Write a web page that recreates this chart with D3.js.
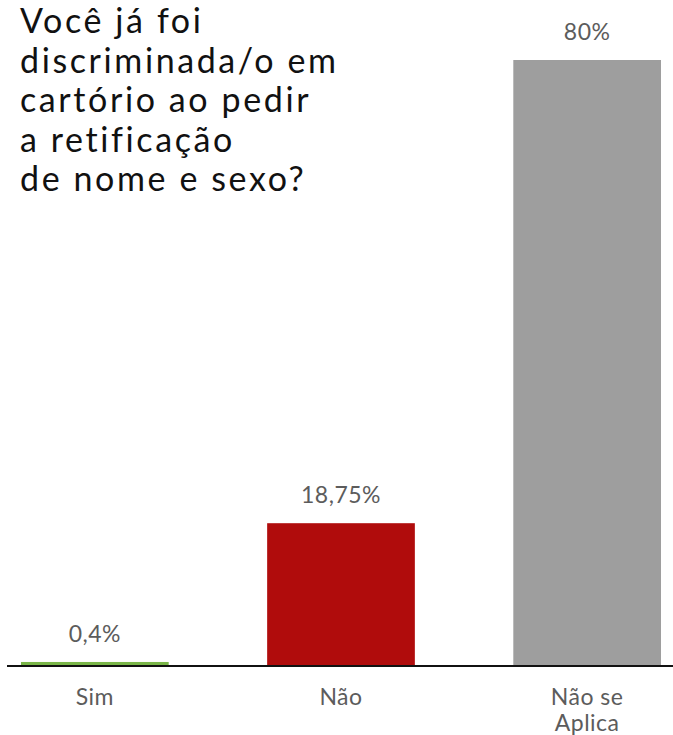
<!DOCTYPE html>
<html>
<head>
<meta charset="utf-8">
<script src="https://cdn.jsdelivr.net/npm/d3@7"></script>
<style>
  html, body { margin: 0; padding: 0; background: #ffffff; }
  svg { display: block; }
  text { font-family: "Lato", "Noto Sans", sans-serif; }
</style>
</head>
<body>
<script>
// Survey answers and their shares (%)
const categories = ["Sim", "Não", "Não se Aplica"];
const values = [0.4, 18.75, 80];
const valueLabels = ["0,4%", "18,75%", "80%"];
const categoryLines = [["Sim"], ["Não"], ["Não se", "Aplica"]];
const barColors = ["#7ab648", "#b00c0c", "#9e9e9e"];
const titleLines = [
  "Você já foi",
  "discriminada/o em",
  "cartório ao pedir",
  "a retificação",
  "de nome e sexo?"
];

const W = 673, H = 735;
const baseY = 665;

const svg = d3.select("body").append("svg")
  .attr("width", W).attr("height", H);

const x = d3.scaleBand()
  .domain(categories)
  .range([21, 661])
  .paddingInner(0.4)
  .paddingOuter(0);

const y = d3.scaleLinear()
  .domain([0, 80])
  .range([baseY, 60]);

// Bars
svg.selectAll("rect.bar")
  .data(categories)
  .join("rect")
  .attr("class", "bar")
  .attr("x", d => x(d))
  .attr("width", x.bandwidth())
  .attr("y", (d, i) => y(values[i]))
  .attr("height", (d, i) => baseY - y(values[i]))
  .attr("fill", (d, i) => barColors[i]);

// Value labels above bars
svg.selectAll("text.val")
  .data(categories)
  .join("text")
  .attr("class", "val")
  .attr("x", d => x(d) + x.bandwidth() / 2)
  .attr("y", (d, i) => y(values[i]) - 20)
  .attr("text-anchor", "middle")
  .attr("font-size", 23)
  .attr("letter-spacing", 0.5)
  .attr("fill", "#5c5c5c")
  .text((d, i) => valueLabels[i]);

// Baseline
svg.append("line")
  .attr("x1", 7).attr("x2", W)
  .attr("y1", baseY + 1).attr("y2", baseY + 1)
  .attr("stroke", "#111111")
  .attr("stroke-width", 2);

// Category labels, one text element per line
const catRows = [];
categories.forEach((c, i) => {
  categoryLines[i].forEach((line, j) => catRows.push({ c, line, j }));
});
svg.selectAll("text.cat")
  .data(catRows)
  .join("text")
  .attr("class", "cat")
  .attr("x", d => x(d.c) + x.bandwidth() / 2)
  .attr("y", d => 705 + d.j * 26)
  .attr("text-anchor", "middle")
  .attr("font-size", 23)
  .attr("letter-spacing", 0.5)
  .attr("fill", "#5c5c5c")
  .text(d => d.line);

// Title block; letter spacing widens the longest line to the intended width
const titleSize = 34;
const tl = svg.append("g").selectAll("text")
  .data(titleLines)
  .join("text")
  .attr("x", 20)
  .attr("y", (d, i) => 33 + i * 39.5)
  .attr("font-size", titleSize)
  .attr("fill", "#111111")
  .text(d => d);
const widestNode = tl.nodes().reduce((a, b) =>
  b.getComputedTextLength() > a.getComputedTextLength() ? b : a);
const extra = 316 - widestNode.getComputedTextLength();
const spacing = Math.max(0, extra / (widestNode.textContent.length - 1));
tl.attr("letter-spacing", spacing);
</script>
</body>
</html>
